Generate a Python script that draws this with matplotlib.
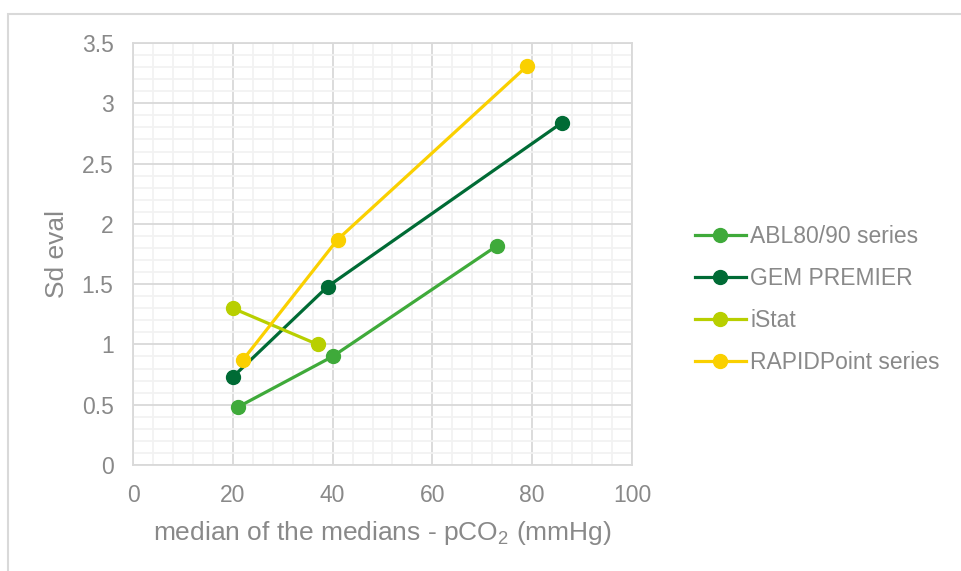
import matplotlib
matplotlib.use("Agg")
import matplotlib.pyplot as plt
from matplotlib.patches import Rectangle
from matplotlib.ticker import MultipleLocator, FuncFormatter

plt.rcParams['font.family'] = ['Liberation Sans', 'DejaVu Sans']
plt.rcParams['mathtext.default'] = 'regular'

series_names = ["ABL80/90 series", "GEM PREMIER", "iStat", "RAPIDPoint series"]
abl_x = [21, 40, 73]
abl_y = [0.48, 0.90, 1.82]
gem_x = [20, 39, 86]
gem_y = [0.73, 1.48, 2.84]
istat_x = [20, 37]
istat_y = [1.30, 1.00]
rapid_x = [22, 41, 79]
rapid_y = [0.87, 1.87, 3.31]
colors = ["#3FAA3A", "#006B35", "#B8CF00", "#FAD000"]

xs = [abl_x, gem_x, istat_x, rapid_x]
ys = [abl_y, gem_y, istat_y, rapid_y]

TXT = "#898989"
fig = plt.figure(figsize=(9.61, 5.71), dpi=100)
fig.patches.append(Rectangle((8/961, -0.1), 1.2, 1 - 14/571 + 0.1, transform=fig.transFigure,
                             fill=False, edgecolor="#d9d9d9", linewidth=1.5))
ax = fig.add_axes([133/961, 1 - 465/571, 499/961, 422/571])

for name, x, y, c in zip(series_names, xs, ys, colors):
    ax.plot(x, y, color=c, lw=2.3, marker='o', markersize=10, label=name, zorder=3)

ax.set_xlim(0, 100)
ax.set_ylim(0, 3.5)
ax.xaxis.set_major_locator(MultipleLocator(20))
ax.xaxis.set_minor_locator(MultipleLocator(4))
ax.yaxis.set_major_locator(MultipleLocator(0.5))
ax.yaxis.set_minor_locator(MultipleLocator(0.1))
ax.grid(which='major', color='#d9d9d9', lw=1.3, zorder=1)
ax.grid(which='minor', color='#f2f2f2', lw=1.3, zorder=0)
ax.set_axisbelow(True)
for s in ax.spines.values():
    s.set_color('#d9d9d9')
    s.set_linewidth(1.3)
ax.tick_params(which='both', length=0, labelsize=16.5, labelcolor=TXT)
ax.tick_params(axis='x', pad=14)
ax.tick_params(axis='y', pad=14)
ax.yaxis.set_major_formatter(FuncFormatter(lambda v, p: ('%g' % v)))

ax.set_xlabel('median of the medians - pCO$_2$ (mmHg)', fontsize=19, color=TXT, labelpad=8)
ax.set_ylabel('Sd eval', fontsize=19, color=TXT, labelpad=9)

leg = fig.legend(loc='upper left', bbox_to_anchor=(686/961, 1 - 216/571), frameon=False,
                 fontsize=16.5, labelcolor=TXT, handlelength=2.2, handletextpad=0.2,
                 labelspacing=0.82, borderaxespad=0)

fig.savefig('out.png', dpi=100)
